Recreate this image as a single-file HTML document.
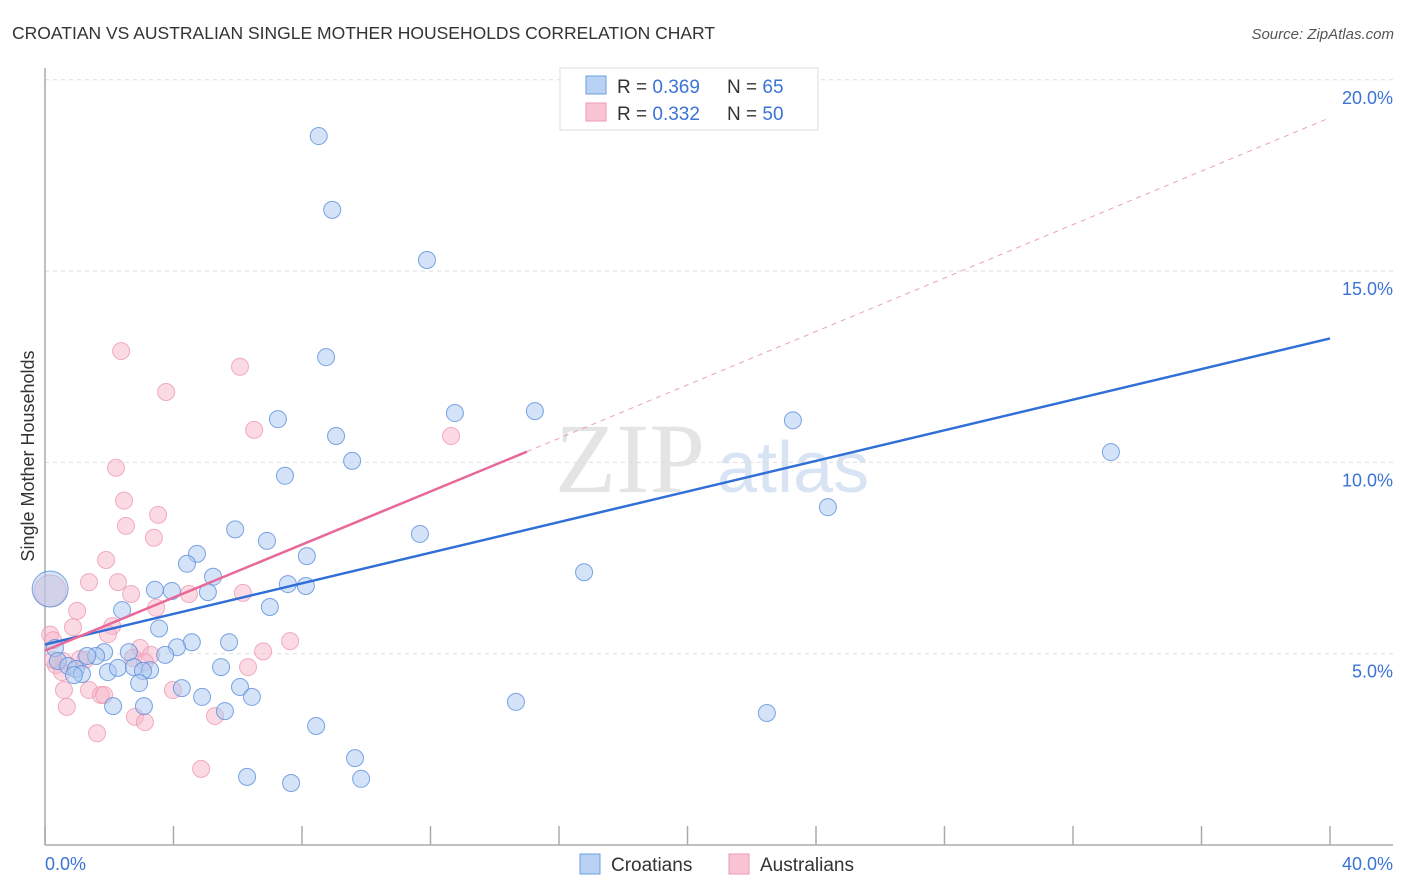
<!DOCTYPE html>
<html><head><meta charset="utf-8"><style>
body{margin:0;background:#fff;font-family:"Liberation Sans",sans-serif}
svg{display:block}
</style></head><body>
<svg id="c" width="1406" height="892" xmlns="http://www.w3.org/2000/svg">
<text x="12" y="39" font-size="17.5" fill="#333">CROATIAN VS AUSTRALIAN SINGLE MOTHER HOUSEHOLDS CORRELATION CHART</text>
<text x="1394" y="39" font-size="15" fill="#555" font-style="italic" text-anchor="end">Source: ZipAtlas.com</text>
<text x="555" y="492" font-size="100" fill="#e4e4e4" font-family="Liberation Serif,serif">ZIP</text>
<text x="717" y="492" font-size="72" fill="#d8e4f4">atlas</text>
<g id="grid"></g>
<line x1="45" y1="68" x2="45" y2="845" stroke="#aaa" stroke-width="1.5"/>
<line x1="45" y1="845" x2="1393" y2="845" stroke="#aaa" stroke-width="1.5"/>
<text transform="translate(34,456) rotate(-90)" font-size="18" fill="#333" text-anchor="middle">Single Mother Households</text>
<text x="45" y="870" font-size="18" fill="#3b73d6">0.0%</text>
<text x="1393" y="870" font-size="18" fill="#3b73d6" text-anchor="end">40.0%</text>
<g id="pts"></g>
<g id="lines"></g>
<g>
<rect x="560" y="68" width="258" height="62" fill="#fff" stroke="#ddd"/>
<rect x="586" y="76" width="20" height="18" fill="#b9d2f4" stroke="#6d9ee0"/>
<rect x="586" y="103" width="20" height="18" fill="#f9c5d5" stroke="#ee9ab3"/>
<text x="617" y="93" font-size="19" fill="#333">R = <tspan fill="#3b73d6">0.369</tspan><tspan x="727">N = </tspan><tspan fill="#3b73d6">65</tspan></text>
<text x="617" y="120" font-size="19" fill="#333">R = <tspan fill="#3b73d6">0.332</tspan><tspan x="727">N = </tspan><tspan fill="#3b73d6">50</tspan></text>
</g>
<g><rect x="580" y="854" width="20" height="20" fill="#b9d2f4" stroke="#6d9ee0"/><text x="611" y="871" font-size="19" fill="#333">Croatians</text></g>
<g><rect x="729" y="854" width="20" height="20" fill="#f9c5d5" stroke="#ee9ab3"/><text x="760" y="871" font-size="19" fill="#333">Australians</text></g>
</svg>
<script>
const yTicks=[5,10,15,20];
const yTickLabels=["5.0%","10.0%","15.0%","20.0%"];
const xTicks=[0,4,8,12,16,20,24,28,32,36,40];
const croatX=[8.52,8.94,11.89,8.75,7.25,12.76,15.25,23.28,9.06,9.56,33.18,7.47,24.37,5.92,11.67,6.91,4.73,4.42,8.15,16.78,5.23,3.42,3.95,5.07,7.56,8.12,7.0,2.4,3.55,5.73,4.57,4.11,2.61,3.74,1.84,1.59,1.31,0.31,0.4,0.72,0.96,1.15,0.9,1.96,2.27,2.77,3.27,3.05,5.48,2.93,4.26,6.07,4.89,6.44,2.12,3.08,14.66,5.6,22.47,8.44,9.65,6.29,7.66,9.84,0.16];
const croatY=[18.53,16.6,15.29,12.75,11.13,11.29,11.34,11.1,10.69,10.04,10.27,9.65,8.83,8.25,8.13,7.95,7.61,7.35,7.55,7.13,7.01,6.67,6.64,6.61,6.82,6.77,6.22,6.14,5.66,5.3,5.3,5.17,5.04,4.97,5.04,4.94,4.94,5.15,4.81,4.68,4.6,4.47,4.44,4.52,4.63,4.65,4.57,4.55,4.65,4.23,4.1,4.13,3.87,3.87,3.63,3.63,3.74,3.5,3.45,3.11,2.27,1.78,1.62,1.73,6.69];
const ausX=[2.37,6.07,3.77,6.51,12.64,2.21,2.46,3.52,2.52,3.39,1.9,1.37,2.27,2.68,4.48,6.16,1.0,3.46,2.09,0.87,0.16,0.25,1.96,2.96,3.3,7.63,6.79,2.74,1.25,0.56,0.34,0.25,0.53,6.32,1.09,3.11,0.59,1.37,1.74,1.84,3.98,0.68,2.8,3.11,5.29,1.62,4.86,0.16];
const ausY=[12.91,12.5,11.84,10.85,10.69,9.86,9.0,8.63,8.34,8.03,7.45,6.87,6.87,6.56,6.56,6.59,6.12,6.2,5.72,5.69,5.5,5.35,5.51,5.15,4.97,5.33,5.06,4.89,4.84,4.81,4.7,4.84,4.52,4.65,4.86,4.78,4.05,4.05,3.92,3.92,4.05,3.61,3.35,3.21,3.37,2.92,1.99,6.64];
const blueLine=[[0,5.24],[40,13.24]];
const pinkLine=[[0,5.08],[15,10.28]];
const pinkDash=[[15,10.28],[40,19.01]];
const NS="http://www.w3.org/2000/svg";
const X=v=>45+v*32.125, Y=v=>845-v*38.26;
const grid=document.getElementById('grid');
yTicks.forEach((t,i)=>{
 const l=document.createElementNS(NS,'line');
 l.setAttribute('x1',45);l.setAttribute('x2',1393);l.setAttribute('y1',Y(t));l.setAttribute('y2',Y(t));
 l.setAttribute('stroke','#ddd');l.setAttribute('stroke-dasharray','4,4');
 
 
 grid.appendChild(l);
 const tx=document.createElementNS(NS,'text');
 tx.setAttribute('x',1393);tx.setAttribute('y',Y(t)+24);tx.setAttribute('text-anchor','end');
 tx.setAttribute('font-size','18');tx.setAttribute('fill','#3b73d6');tx.textContent=yTickLabels[i];
 
 
 grid.appendChild(tx);
});
xTicks.forEach(t=>{
 const l=document.createElementNS(NS,'line');
 l.setAttribute('x1',X(t));l.setAttribute('x2',X(t));l.setAttribute('y1',826);l.setAttribute('y2',845);
 l.setAttribute('stroke','#aaa');l.setAttribute('stroke-width','1.5');
 
 
 grid.appendChild(l);
});
const pts=document.getElementById('pts');
function dot(x,y,r,fill,stroke,name){
 const c=document.createElementNS(NS,'circle');
 c.setAttribute('cx',X(x));c.setAttribute('cy',Y(y));c.setAttribute('r',r);
 c.setAttribute('fill',fill);c.setAttribute('fill-opacity','0.5');c.setAttribute('stroke',stroke);c.setAttribute('stroke-opacity','0.8');
 
 
 pts.appendChild(c);
}
ausX.forEach((x,i)=>dot(x,ausY[i],i==ausX.length-1?16:8.5,'#f7b6c9','#ee9ab3','point-australians'));
croatX.forEach((x,i)=>dot(x,croatY[i],i==croatX.length-1?18:8.5,'#a9c8f0','#5b8fdb','point-croatians'));
const lines=document.getElementById('lines');
function ln(p,col,w,dash,name){
 const l=document.createElementNS(NS,'line');
 l.setAttribute('x1',X(p[0][0]));l.setAttribute('y1',Y(p[0][1]));l.setAttribute('x2',X(p[1][0]));l.setAttribute('y2',Y(p[1][1]));
 l.setAttribute('stroke',col);l.setAttribute('stroke-width',w);if(dash)l.setAttribute('stroke-dasharray',dash);
 
 
 lines.appendChild(l);
}
ln(pinkDash,'#e9a0b6',1,'5,5','trend-australians-extension');
ln(blueLine,'#2f6fd6',2.5,null,'trend-croatians');
ln(pinkLine,'#e8689a',2.5,null,'trend-australians');
</script>
</body></html>
